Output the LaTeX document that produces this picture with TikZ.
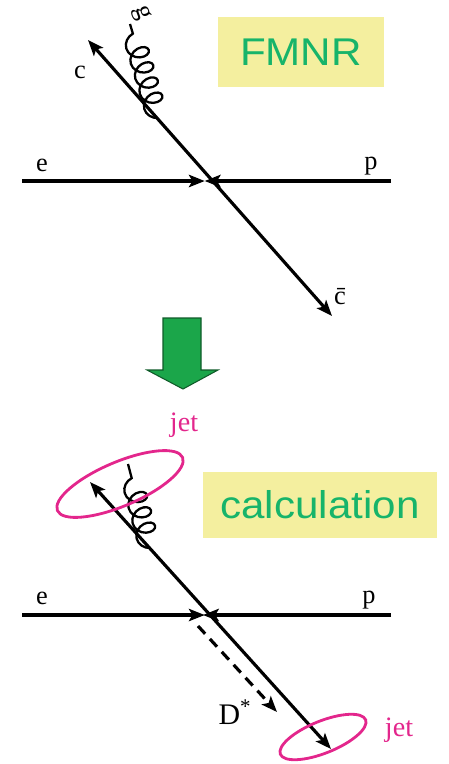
\documentclass[tikz,border=0pt]{standalone}
\usepackage{fontspec}
\setmainfont{Liberation Serif}
\newfontfamily\boxfont[FakeStretch=1.09]{Liberation Sans}
\usetikzlibrary{arrows.meta,decorations.pathmorphing}
\definecolor{boxyellow}{HTML}{F4EF9F}
\definecolor{boxgreen}{HTML}{17B46A}
\definecolor{arrowgreen}{HTML}{1BA64A}
\definecolor{jetpink}{HTML}{E3268C}
\tikzset{
  fermion/.style={line width=1.8pt, -{Stealth[length=9pt,width=7pt,inset=2pt]}},
  twoway/.style={line width=1.8pt, {Stealth[length=9pt,width=7pt,inset=2pt]}-{Stealth[length=9pt,width=7pt,inset=2pt]}},
  gluon/.style={line width=1.3pt, decorate, decoration={coil, amplitude=6pt, segment length=9pt, aspect=0.8}},
  lbl/.style={font=\fontsize{15}{17}\selectfont, inner sep=0pt},
  namebox/.style={fill=boxyellow, text=boxgreen, font=\fontsize{22}{26}\boxfont, inner sep=0pt},
  jetring/.style={draw=jetpink, line width=1.6pt},
  jetlbl/.style={lbl, font=\fontsize{16}{18}\selectfont, text=jetpink},
}
\begin{document}
\begin{tikzpicture}[x=0.02cm, y=-0.02cm]
        \useasboundingbox (0,0) rectangle (449,764);

        % Define node positions (FMNR)
        \coordinate (eA) at (22,181); \coordinate (vA) at (210,181);
        \coordinate (pA) at (391,181); \coordinate (cA) at (88,40);
        \coordinate (cbA) at (332,316); \coordinate (gA) at (158,118);
        \coordinate (gAend) at (130,24);
        \node[namebox, minimum width=3.34cm, minimum height=1.4cm] (fmnr) at (301,52) {FMNR};

        % Draw arrows
        \draw[fermion, shorten >=3pt] (eA) -- (vA);
        \draw[fermion, shorten >=-3pt] (pA) -- (vA);
        \draw[twoway] (cbA) -- (cA);
        \draw[gluon] (gA) -- (gAend);

        % Labels
        \node[lbl] (eLabA) at (42,165) {e}; \node[lbl] (pLabA) at (371,166) {p};
        \node[lbl] (cLabA) at (80,72) {c}; \node[lbl] (cbLabA) at (340,297) {\={c}};
        \node[lbl, rotate=-70] (gLabA) at (141,13) {g};

        % Big arrow
        \draw[fill=arrowgreen, draw=arrowgreen!55!black, line width=0.6pt] (163,318) --
        (201,318) -- (201,370) -- (218,370) -- (183,389) -- (147,370) -- (163,370) -- cycle;

        % Define node positions (calculation)
        \coordinate (eB) at (22,615); \coordinate (vB) at (210,615);
        \coordinate (pB) at (391,615); \coordinate (cB) at (90,482);
        \coordinate (cbB) at (331,749); \coordinate (gB) at (150,548);
        \coordinate (gBend) at (128,464); \coordinate (dsB) at (198,626);
        \coordinate (dB) at (277,712); \coordinate (jetA) at (120,484);
        \coordinate (jetB) at (323,737);
        \node[namebox, minimum width=4.68cm, minimum height=1.32cm] (calc) at (320,505) {calculation};

        % Draw arrows
        \draw[fermion, shorten >=3pt] (eB) -- (vB);
        \draw[fermion, shorten >=-4pt] (pB) -- (vB);
        \draw[twoway] (cbB) -- (cB);
        \draw[gluon] (gB) -- (gBend);
        \draw[fermion, dashed, dash pattern=on 6pt off 4pt] (dsB) -- (dB);

        % Jets
        \draw[jetring, rotate around={23:(jetA)}] (jetA) ellipse [x radius=1.36cm, y radius=0.44cm];
        \draw[jetring, rotate around={22:(jetB)}] (jetB) ellipse [x radius=0.92cm, y radius=0.32cm];

        % Labels
        \node[lbl] (eLabB) at (42,598) {e}; \node[lbl] (pLabB) at (369,600) {p};
        \node[lbl, font=\fontsize{17}{19}\selectfont] (dLab) at (235,712) {D\textsuperscript{*}};
        \node[jetlbl] (jetLabA) at (184,425) {jet}; \node[jetlbl] (jetLabB) at (399,730) {jet};
    \end{tikzpicture}
\end{document}
